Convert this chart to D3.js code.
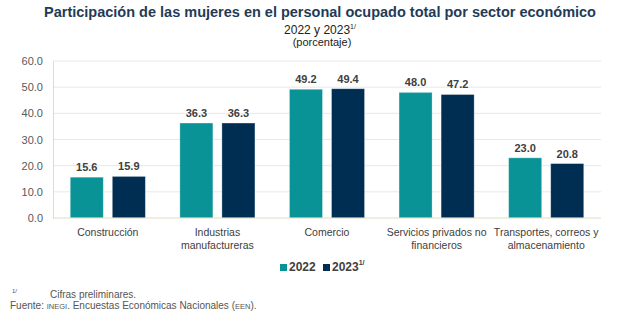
<!DOCTYPE html>
<html>
<head>
<meta charset="utf-8">
<script src="https://cdn.jsdelivr.net/npm/d3@7"></script>
<style>
  body { margin: 0; background: #fff; font-family: "Liberation Sans", Arial, sans-serif; }
</style>
</head>
<body>
<div id="chart"></div>
<script>
var sectors = [
    ["Construcción"],
    ["Industrias", "manufactureras"],
    ["Comercio"],
    ["Servicios privados no", "financieros"],
    ["Transportes, correos y", "almacenamiento"]
];
var years = ["2022", "2023"];
var values2022 = [15.6, 36.3, 49.2, 48.0, 23.0];
var values2023 = [15.9, 36.3, 49.4, 47.2, 20.8];
var yTicks = [0, 10, 20, 30, 40, 50, 60];
var colors = ["#0a9396", "#002e52"];

function createChart(div) {
    var width = 620, height = 322;
    var svg = d3.select(div)
        .append("svg")
        .attr("width", width)
        .attr("height", height);

    // titles
    svg.append("text")
        .attr("x", 320).attr("y", 17)
        .attr("text-anchor", "middle")
        .style("font-size", "14.5px")
        .style("font-weight", "bold")
        .style("fill", "#1f3b57")
        .text("Participación de las mujeres en el personal ocupado total por sector económico");

    var sub = svg.append("text")
        .attr("x", 320).attr("y", 34)
        .attr("text-anchor", "middle")
        .style("font-size", "12px")
        .style("fill", "#222");
    sub.append("tspan").text("2022 y 2023");
    sub.append("tspan").attr("dy", -5).style("font-size", "7px").text("1/");

    svg.append("text")
        .attr("x", 322).attr("y", 46)
        .attr("text-anchor", "middle")
        .style("font-size", "11px")
        .style("fill", "#222")
        .text("(porcentaje)");

    var x = d3.scaleBand()
        .domain(d3.range(sectors.length))
        .range([53, 601])
        .paddingInner(0)
        .paddingOuter(0);

    var xs = d3.scaleBand()
        .domain(years)
        .range([0, x.bandwidth()])
        .paddingInner(0.214)
        .paddingOuter(0.41);

    var y = d3.scaleLinear()
        .domain([0, 60])
        .range([218, 61]);

    // grid lines
    svg.selectAll(".grid")
        .data(yTicks.slice(1))
        .enter().append("line")
        .attr("x1", 53).attr("x2", 601)
        .attr("y1", function(d) { return y(d); })
        .attr("y2", function(d) { return y(d); })
        .attr("stroke", "#e8e8e8")
        .attr("stroke-width", 1);

    // y axis
    var yAxis = svg.append("g")
        .attr("transform", "translate(53,0)")
        .call(d3.axisLeft(y).tickValues(yTicks).tickSize(0).tickPadding(10).tickFormat(d3.format(".1f")));
    yAxis.select(".domain").attr("stroke", "#deddc8");
    yAxis.selectAll("text")
        .style("font-size", "11px")
        .style("fill", "#595959")
        .style("font-family", "Liberation Sans, Arial, sans-serif");

    // bars
    var series = [values2022, values2023];
    series.forEach(function(vals, si) {
        var g = svg.append("g");
        g.selectAll("rect")
            .data(vals)
            .enter().append("rect")
            .attr("x", function(d, i) { return x(i) + xs(years[si]); })
            .attr("y", function(d) { return y(d); })
            .attr("width", xs.bandwidth())
            .attr("height", function(d) { return y(0) - y(d); })
            .attr("fill", colors[si])
            .attr("stroke", "#ffffff")
            .attr("stroke-opacity", 0.4)
            .attr("stroke-width", 0.8);

        g.selectAll("text")
            .data(vals)
            .enter().append("text")
            .attr("x", function(d, i) { return x(i) + xs(years[si]) + xs.bandwidth() / 2; })
            .attr("y", function(d) { return y(d) - 6; })
            .attr("text-anchor", "middle")
            .style("font-size", "11px")
            .style("font-weight", "bold")
            .style("fill", "#404040")
            .text(function(d) { return d3.format(".1f")(d); });
    });

    // x axis line
    svg.append("line")
        .attr("x1", 53).attr("x2", 601)
        .attr("y1", y(0)).attr("y2", y(0))
        .attr("stroke", "#deddc8")
        .attr("stroke-width", 1);

    // category labels
    var cat = svg.selectAll(".cat")
        .data(sectors)
        .enter().append("text")
        .attr("x", function(d, i) { return x(i) + x.bandwidth() / 2; })
        .attr("y", 236)
        .attr("text-anchor", "middle")
        .style("font-size", "10.5px")
        .style("fill", "#404040");
    cat.selectAll("tspan")
        .data(function(d) { return d; })
        .enter().append("tspan")
        .attr("x", function() { return d3.select(this.parentNode).attr("x"); })
        .attr("dy", function(d, i) { return i === 0 ? 0 : 13; })
        .text(function(d) { return d; });

    // legend
    var legend = svg.append("g").attr("transform", "translate(280,271)");
    legend.append("rect").attr("x", 0).attr("y", -7).attr("width", 7).attr("height", 7).attr("fill", colors[0]);
    legend.append("text").attr("x", 9).attr("y", 0)
        .style("font-size", "12px").style("font-weight", "bold").style("fill", "#404040")
        .text(years[0]);
    legend.append("rect").attr("x", 43).attr("y", -7).attr("width", 7).attr("height", 7).attr("fill", colors[1]);
    var lt = legend.append("text").attr("x", 52).attr("y", 0)
        .style("font-size", "12px").style("font-weight", "bold").style("fill", "#404040");
    lt.append("tspan").text(years[1]);
    lt.append("tspan").attr("dy", -6).style("font-size", "7px").text("1/");

    // footnotes
    svg.append("text").attr("x", 12).attr("y", 293)
        .style("font-size", "6px").style("fill", "#555").text("1/");
    svg.append("text").attr("x", 50).attr("y", 298)
        .style("font-size", "10px").style("fill", "#555").text("Cifras preliminares.");
    var f = svg.append("text").attr("x", 10).attr("y", 309)
        .style("font-size", "10px").style("fill", "#555");
    f.append("tspan").text("Fuente: ");
    f.append("tspan").style("font-size", "7.5px").text("INEGI");
    f.append("tspan").text(". Encuestas Económicas Nacionales (");
    f.append("tspan").style("font-size", "7.5px").text("EEN");
    f.append("tspan").text(").");
}

createChart("#chart");
</script>
</body>
</html>
